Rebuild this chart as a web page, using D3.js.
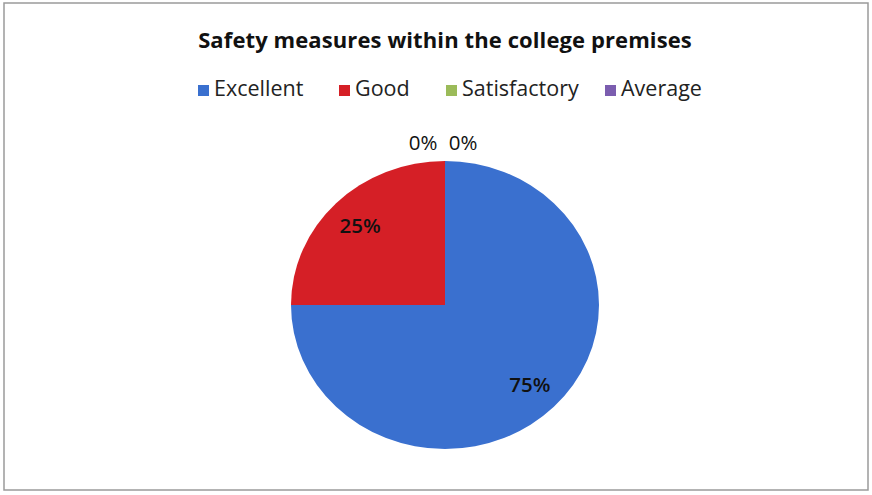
<!DOCTYPE html>
<html><head><meta charset="utf-8">
<script src="https://cdn.jsdelivr.net/npm/d3@7/dist/d3.min.js"></script>
<style>body{margin:0;background:#fff}svg{display:block}</style>
</head><body>
<script>
const categories = ["Excellent", "Good", "Satisfactory", "Average"];
const values = [75, 25, 0, 0];
const colors = ["#3a70cf", "#d51f26", "#9bbb59", "#7b5daf"];
const title = "Safety measures within the college premises";

const W = 872, H = 495;
const svg = d3.select("body").append("svg").attr("width", W).attr("height", H);
svg.append("rect").attr("x", 0).attr("y", 0).attr("width", W).attr("height", H).attr("fill", "#fff");
svg.append("rect").attr("x", 4).attr("y", 3).attr("width", W - 8).attr("height", H - 8)
  .attr("fill", "none").attr("stroke", "#9a9a9a").attr("stroke-width", 1.5);

const font = "'Open Sans', sans-serif";
svg.append("text").attr("x", 445).attr("y", 48).attr("text-anchor", "middle")
  .attr("font-family", font).attr("font-weight", "bold").attr("font-size", 22).attr("fill", "#111")
  .attr("letter-spacing", 0.1)
  .text(title);

// legend
const legendX = [198, 339, 446, 605];
const leg = svg.append("g");
categories.forEach((c, i) => {
  const g = leg.append("g").attr("transform", `translate(${legendX[i]},90)`);
  g.append("rect").attr("x", 0).attr("y", -5).attr("width", 11).attr("height", 11).attr("fill", colors[i]);
  g.append("text").attr("x", 16).attr("y", 6).attr("font-family", font).attr("font-size", 21.5).attr("fill", "#222")
    .text(c);
});

const cx = 445, cy = 305, r = 144, sx = 154 / 144;
const pie = d3.pie().sort(null).value(d => d)(values);
const arc = d3.arc().innerRadius(0).outerRadius(r);
const pg = svg.append("g").attr("transform", `translate(${cx},${cy}) scale(${sx},1)`);
pg.selectAll("path").data(pie).enter().append("path")
  .attr("d", arc).attr("fill", (d, i) => colors[i]);

// labels
const inner = d3.arc().innerRadius(r * 0.78).outerRadius(r * 0.78);
const outer = d3.arc().innerRadius(r + 18).outerRadius(r + 18);
let zi = 0;
pie.forEach((d, i) => {
  let x, y;
  if (d.value > 0) {
    const c = inner.centroid(d);
    x = cx + c[0] * sx; y = cy + c[1];
  } else {
    const c = outer.centroid(d);
    x = cx + c[0] * sx + (zi === 0 ? -22 : 18); y = cy + c[1];
    zi++;
  }
  svg.append("text").attr("x", x).attr("y", y).attr("dy", "0.35em").attr("text-anchor", "middle")
    .attr("font-family", font).attr("font-size", 20.5).attr("fill", "#111")
    .attr("font-weight", d.value > 0 ? 600 : "normal")
    .text(Math.round(d.value / d3.sum(values) * 100) + "%");
});
</script>
</body></html>
